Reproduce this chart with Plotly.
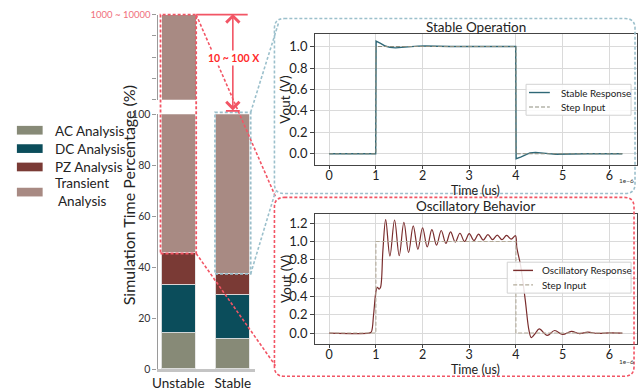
import plotly.graph_objects as go

# ---------------- data ----------------
categories = ["Unstable", "Stable"]
ac_pct = [14.1, 12.0]
dc_pct = [19.0, 17.0]
pz_pct = [12.3, 8.4]
transient_pct = [54.6, 62.6]
transient_upper = [10000, None]          # broken-axis upper segment (1000 ~ 10000 %)
upper_tickvals = [1000, 3250, 5500, 7750, 10000]
upper_ticktext = ["", "", "", "", "1000 ~ 10000"]
lower_tickvals = [0, 20, 40, 60, 80, 100]

step_t = [0, 1, 1, 4, 4, 6.28]
step_v = [0, 0, 1, 1, 0, 0]

stable_t = [0, 0.995, 1.0, 1.005, 1.1, 1.2, 1.3, 1.42, 1.55, 1.7, 1.9, 2.05, 2.3, 2.6,
            3.5, 3.995, 4.0, 4.005, 4.1, 4.2, 4.3, 4.42, 4.55, 4.7, 4.85, 5.0, 5.2,
            5.5, 6.28]
stable_v = [0, 0, 0.5, 1.05, 1.03, 1.005, 0.992, 0.988, 0.992, 0.998, 1.004, 1.005,
            1.002, 1.0, 1.0, 1.0, 0.48, -0.045, -0.03, -0.008, 0.008, 0.013, 0.01,
            0.002, -0.004, -0.005, -0.002, 0.0, 0.0]

osc_t = [0, 0.85, 0.9, 0.95, 1.0, 1.03, 1.07, 1.1, 1.15, 1.21, 1.30, 1.40, 1.50, 1.60,
         1.70, 1.80, 1.90, 2.00, 2.10, 2.20, 2.30, 2.40, 2.50, 2.60, 2.70, 2.80, 2.90,
         3.00, 3.10, 3.20, 3.30, 3.40, 3.50, 3.60, 3.70, 3.80, 3.90, 3.99, 4.02, 4.10,
         4.20, 4.28, 4.33, 4.42, 4.50, 4.67, 4.83, 5.00, 5.19, 5.36, 5.54, 5.75, 6.0,
         6.28]
osc_v = [0, 0, 0.01, 0.2, 0.45, 0.5, 0.48, 0.5, 0.9, 1.24, 0.84, 1.235, 0.845, 1.21,
         0.88, 1.17, 0.915, 1.15, 0.94, 1.13, 0.96, 1.12, 0.98, 1.105, 0.995, 1.09, 1.0,
         1.085, 1.01, 1.08, 1.015, 1.075, 1.02, 1.07, 1.02, 1.067, 1.025, 1.063, 0.93,
         0.74, 0.36, 0.03, -0.05, 0.0, 0.045, -0.025, 0.028, -0.015, 0.018, -0.007, 0.01,
         -0.004, 0.002, 0.0]

bar_names = ["AC Analysis", "DC Analysis", "PZ Analysis", "Transient Analysis"]
bar_colors = ["#878a77", "#0b4d5b", "#7a3a35", "#a88a83"]
stable_names = ["Stable Response", "Step Input"]
osc_names = ["Oscillatory Response", "Step Input"]

# ---------------- helpers ----------------
W, H = 638, 391
FONT = "Lato"


def px(x):
    return x / W


def py(y):
    return 1 - y / H


def rounded_path(x0, y0, x1, y1, r):
    rx, ry = r / W, r / H
    X0, X1, Y0, Y1 = px(x0), px(x1), py(y0), py(y1)
    return (f"M{X0 + rx},{Y0} L{X1 - rx},{Y0} Q{X1},{Y0} {X1},{Y0 - ry} "
            f"L{X1},{Y1 + ry} Q{X1},{Y1} {X1 - rx},{Y1} "
            f"L{X0 + rx},{Y1} Q{X0},{Y1} {X0},{Y1 + ry} "
            f"L{X0},{Y0 - ry} Q{X0},{Y0} {X0 + rx},{Y0} Z")


RED = "#f25565"
BLUE = "#9cc0cc"
DASH = "3px,2px"
STABLE_COL = "#2f6877"
STEP_COL1 = "#8d8d7e"
OSC_COL = "#7a2d2d"
STEP_COL2 = "#b3ab9a"

fig = go.Figure()

# ---------------- bars ----------------
for vals, name, col in zip([ac_pct, dc_pct, pz_pct, transient_pct], bar_names, bar_colors):
    fig.add_trace(go.Bar(x=categories, y=vals, name=name,
                         marker=dict(color=col, line=dict(color="rgba(230,230,230,0.9)", width=1)),
                         width=0.62, showlegend=False, xaxis="x", yaxis="y"))
fig.add_trace(go.Bar(x=categories, y=transient_upper, name="Transient Analysis (upper)",
                     marker=dict(color=bar_colors[3], line=dict(width=0)),
                     width=0.62, showlegend=False, xaxis="x", yaxis="y2"))

# ---------------- lines ----------------
fig.add_trace(go.Scatter(x=stable_t, y=stable_v, mode="lines", name=stable_names[0],
                         line=dict(color=STABLE_COL, width=1.4), xaxis="x2", yaxis="y3",
                         showlegend=False))
fig.add_trace(go.Scatter(x=step_t, y=step_v, mode="lines", name=stable_names[1],
                         line=dict(color=STEP_COL1, width=1.1, dash="4px,2px"),
                         xaxis="x2", yaxis="y3", showlegend=False))
fig.add_trace(go.Scatter(x=osc_t, y=osc_v, mode="lines", name=osc_names[0],
                         line=dict(color=OSC_COL, width=1.2, shape="spline", smoothing=1.0),
                         xaxis="x3", yaxis="y4", showlegend=False))
fig.add_trace(go.Scatter(x=step_t, y=step_v, mode="lines", name=osc_names[1],
                         line=dict(color=STEP_COL2, width=1.1, dash="4px,2px"),
                         xaxis="x3", yaxis="y4", showlegend=False))

line_axis = dict(showline=True, mirror=True, linecolor="#444", linewidth=1,
                 ticks="outside", ticklen=3.5, tickcolor="#444",
                 showgrid=True, gridcolor="#dadada", gridwidth=0.8, zeroline=False)
ytickfont = dict(family=FONT, size=13, color="#222")
xtickfont = dict(family=FONT, size=12.5, color="#222")

fig.update_layout(
    width=W, height=H, margin=dict(l=0, r=0, t=0, b=0),
    paper_bgcolor="white", plot_bgcolor="white",
    barmode="stack", bargap=0, showlegend=False,
    font=dict(family=FONT, color="#222"),
    xaxis=dict(domain=[px(154), px(252)], type="category", range=[-0.38, 1.40],
               anchor="y", showline=True, linecolor="#c4c4c4", linewidth=2.5,
               ticks="", showgrid=False, zeroline=False,
               tickfont=dict(family=FONT, size=13.5, color="#222")),
    yaxis=dict(domain=[py(376), py(112)], range=[0, 100], anchor="x",
               tickvals=lower_tickvals, showline=True, linecolor="#9a9a9a", linewidth=1.2,
               ticks="outside", ticklen=4, tickcolor="#9a9a9a", showgrid=False,
               zeroline=False, tickfont=dict(family=FONT, size=10.5, color="#333")),
    yaxis2=dict(domain=[py(97), py(9)], range=[1000, 10000], anchor="x",
                tickvals=upper_tickvals, ticktext=upper_ticktext,
                showline=True, linecolor="#9a9a9a", linewidth=1.2,
                ticks="outside", ticklen=4, tickcolor="#9a9a9a", showgrid=False,
                zeroline=False, tickfont=dict(family=FONT, size=9.5, color="#f0707c")),
    xaxis2=dict(domain=[px(312.5), 1.0], range=[-0.314, 6.594], anchor="y3",
                tickvals=[0, 1, 2, 3, 4, 5, 6], ticklabelstandoff=-4, tickfont=xtickfont,
                **line_axis),
    yaxis3=dict(domain=[py(164), py(29.3)], range=[-0.1, 1.114], anchor="x2",
                tickvals=[0, 0.2, 0.4, 0.6, 0.8, 1.0], tickformat=".1f", tickfont=ytickfont,
                **line_axis),
    xaxis3=dict(domain=[px(312.5), 1.0], range=[-0.314, 6.594], anchor="y4",
                tickvals=[0, 1, 2, 3, 4, 5, 6], ticklabelstandoff=-4, tickfont=xtickfont,
                **line_axis),
    yaxis4=dict(domain=[py(349.3), py(215)], range=[-0.116, 1.302], anchor="x3",
                tickvals=[0, 0.2, 0.4, 0.6, 0.8, 1.0, 1.2], tickformat=".1f", tickfont=ytickfont,
                **line_axis),
)

shapes = []
annotations = []


def text(x, y, s, size, color="#222", xanchor="center", yanchor="middle", angle=0, **kw):
    annotations.append(dict(xref="paper", yref="paper", x=px(x), y=py(y), text=s,
                            showarrow=False, xanchor=xanchor, yanchor=yanchor, textangle=angle,
                            font=dict(family=FONT, size=size, color=color), **kw))


# panel boxes
shapes.append(dict(type="path", xref="paper", yref="paper", path=rounded_path(272, 13, 636, 194, 10),
                   line=dict(color=BLUE, width=1.6, dash=DASH), layer="above"))
shapes.append(dict(type="path", xref="paper", yref="paper", path=rounded_path(272, 198, 635, 383, 10),
                   line=dict(color=RED, width=1.6, dash=DASH), layer="above"))

# highlight rectangles around bars
shapes.append(dict(type="rect", xref="paper", yref="paper", x0=px(157), x1=px(193), y0=py(256), y1=py(9),
                   line=dict(color=RED, width=1.8, dash=DASH)))
shapes.append(dict(type="rect", xref="paper", yref="paper", x0=px(212), x1=px(248), y0=py(277), y1=py(110),
                   line=dict(color=BLUE, width=1.8, dash=DASH)))

# connector lines
for (x0, y0, x1, y1, c) in [(193, 9, 273, 197, RED), (193, 256, 273, 372, RED),
                            (248, 110, 276, 18, BLUE), (248, 277, 273, 192, BLUE)]:
    shapes.append(dict(type="line", xref="paper", yref="paper", x0=px(x0), y0=py(y0),
                       x1=px(x1), y1=py(y1), line=dict(color=c, width=1.6, dash=DASH)))

# solid red lines for ratio arrow
shapes.append(dict(type="line", xref="paper", yref="paper", x0=px(193), y0=py(9), x1=px(245), y1=py(9),
                   line=dict(color=RED, width=1.8)))
shapes.append(dict(type="line", xref="paper", yref="paper", x0=px(223), y0=py(108.5), x1=px(237), y1=py(108.5),
                   line=dict(color=RED, width=1.8)))

# bar legend (left)
legend_y = [128.5, 147.5, 166.5, 192.5]
for yc, col in zip(legend_y, bar_colors):
    shapes.append(dict(type="rect", xref="paper", yref="paper", x0=px(12), x1=px(38),
                       y0=py(yc + 4.5), y1=py(yc - 4.5), fillcolor=col, line=dict(width=0)))
text(48, 129, bar_names[0], 13.5, xanchor="left")
text(48, 148, bar_names[1], 13.5, xanchor="left")
text(48, 167, bar_names[2], 13.5, xanchor="left")
text(48, 192, bar_names[3].replace(" ", "<br> "), 13.5, xanchor="left", align="left")

# line-plot legends
for (bx0, by0, bx1, by1, sx0, sx1, tx, names, cols) in [
        (526, 81, 632, 113, 529, 550, 559, stable_names, [STABLE_COL, STEP_COL1]),
        (507, 265, 632, 297, 513, 533, 540, osc_names, [OSC_COL, STEP_COL2])]:
    shapes.append(dict(type="rect", xref="paper", yref="paper", x0=px(bx0), x1=px(bx1),
                       y0=py(by1), y1=py(by0), fillcolor="rgba(255,255,255,0.85)",
                       line=dict(color="#d2d2d2", width=1), layer="above"))
    for k, (nm, col) in enumerate(zip(names, cols)):
        yy = by0 + 8.5 + 15 * k
        shapes.append(dict(type="line", xref="paper", yref="paper", x0=px(sx0), x1=px(sx1),
                           y0=py(yy), y1=py(yy), layer="above",
                           line=dict(color=col, width=1.4 if k == 0 else 1.1,
                                     dash="solid" if k == 0 else "4px,2px")))
        text(tx, yy, nm, 9.8, xanchor="left")

# double arrow (head at bottom, tail 98 px above)
annotations.append(dict(xref="paper", yref="paper", x=px(230), y=py(108), ax=0, ay=-98,
                        axref="pixel", ayref="pixel", text="", showarrow=True,
                        arrowhead=4, startarrowhead=4, arrowside="end+start",
                        arrowsize=1.6, startarrowsize=1.6, arrowwidth=1.6, arrowcolor=RED))
text(231.5, 54, "<b>10 ~ 100 X</b>", 10.5, color="#ff2a2a", bgcolor="white", borderpad=1)

# y title for bar chart
text(125, 196, "Simulation Time Percentage (%)", 16, angle=-90)

# line-plot titles and axis labels
for title, ty, tt, vy, ey in [("Stable Operation", 21.5, 191, 96.5, 181),
                              ("Oscillatory Behavior", 207, 376.5, 282, 368)]:
    text(475, ty, title, 13.5)
    text(475, tt, "Time (us)", 12.5, borderpad=0)
    text(283, vy, "Vout (V)", 13.5, angle=-90)
    text(637, ey, "1e\u22126", 6.5, color="#333", xanchor="right")

fig.update_layout(shapes=shapes, annotations=annotations)
fig.write_html("out.html", config={"displayModeBar": False},
               post_script="document.body.style.margin='0px';")
